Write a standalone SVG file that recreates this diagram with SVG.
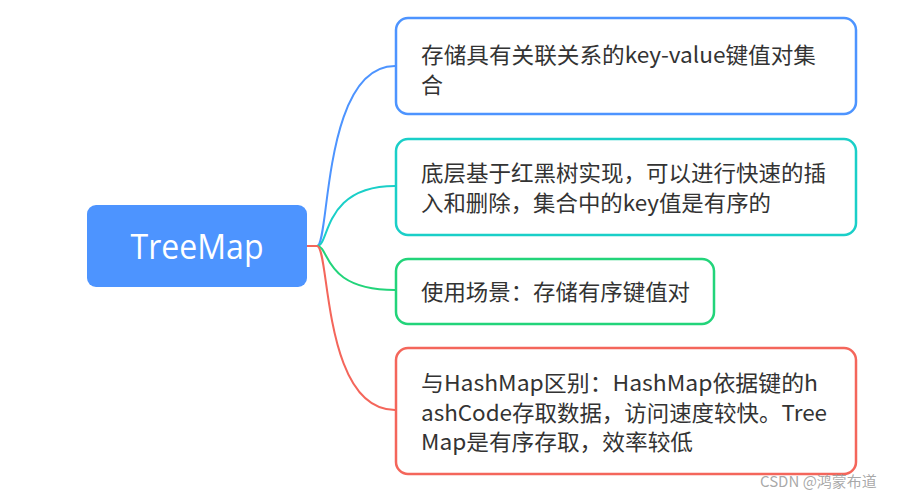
<svg xmlns="http://www.w3.org/2000/svg" width="911" height="498" viewBox="0 0 911 498">
<style>
.box{fill:#fff;stroke-width:2.5}
.t{font-family:"Noto Sans CJK SC","Open Sans",sans-serif;font-size:22px;fill:#333}
.c{fill:none;stroke-width:2}
</style>
<rect width="911" height="498" fill="#fff"/>
<g id="connectors">
<path class="c" stroke="#4D94FF" d="M306,246 L317,246 C330,246 322,66 395,66"/>
<path class="c" stroke="#1ACFC8" d="M306,246 L317,246 C330,246 322,186 395,186"/>
<path class="c" stroke="#22D47A" d="M306,246 L317,246 C330,246 322,290 395,290"/>
<path class="c" stroke="#F4665B" d="M306,246 L317,246 C330,246 322,410 395,410"/>
</g>
<g id="root">
<rect x="87" y="205" width="220" height="82" rx="9" fill="#4D94FF"/>
<text x="197" y="259" text-anchor="middle" font-family="'Open Sans','Noto Sans',sans-serif" font-size="34" fill="#fff" textLength="133" lengthAdjust="spacingAndGlyphs">TreeMap</text>
</g>
<g id="n1">
<rect class="box" x="396" y="18" width="460" height="96" rx="12" stroke="#4D94FF"/>
<text class="t" x="421" y="63" textLength="395" lengthAdjust="spacingAndGlyphs">存储具有关联关系的key-value键值对集</text>
<text class="t" x="421" y="93">合</text>
</g>
<g id="n2">
<rect class="box" x="396" y="139" width="460" height="96" rx="12" stroke="#1ACFC8"/>
<text class="t" x="421" y="181" textLength="405" lengthAdjust="spacingAndGlyphs">底层基于红黑树实现，可以进行快速的插</text>
<text class="t" x="421" y="211" textLength="350" lengthAdjust="spacingAndGlyphs">入和删除，集合中的key值是有序的</text>
</g>
<g id="n3">
<rect class="box" x="396" y="259" width="318" height="65" rx="12" stroke="#22D47A"/>
<text class="t" x="421" y="300" textLength="269" lengthAdjust="spacingAndGlyphs">使用场景：存储有序键值对</text>
</g>
<g id="n4">
<rect class="box" x="396" y="348" width="460" height="126" rx="12" stroke="#F4665B"/>
<text class="t" x="421" y="391" textLength="397" lengthAdjust="spacingAndGlyphs">与HashMap区别：HashMap依据键的h</text>
<text class="t" x="421" y="421" textLength="406" lengthAdjust="spacingAndGlyphs">ashCode存取数据，访问速度较快。Tree</text>
<text class="t" x="421" y="450" textLength="272" lengthAdjust="spacingAndGlyphs">Map是有序存取，效率较低</text>
</g>
<text x="760" y="487" font-family="'Noto Sans CJK SC','Liberation Sans',sans-serif" font-size="15" fill="#999" fill-opacity="0.85">CSDN @鸿蒙布道</text>
</svg>
